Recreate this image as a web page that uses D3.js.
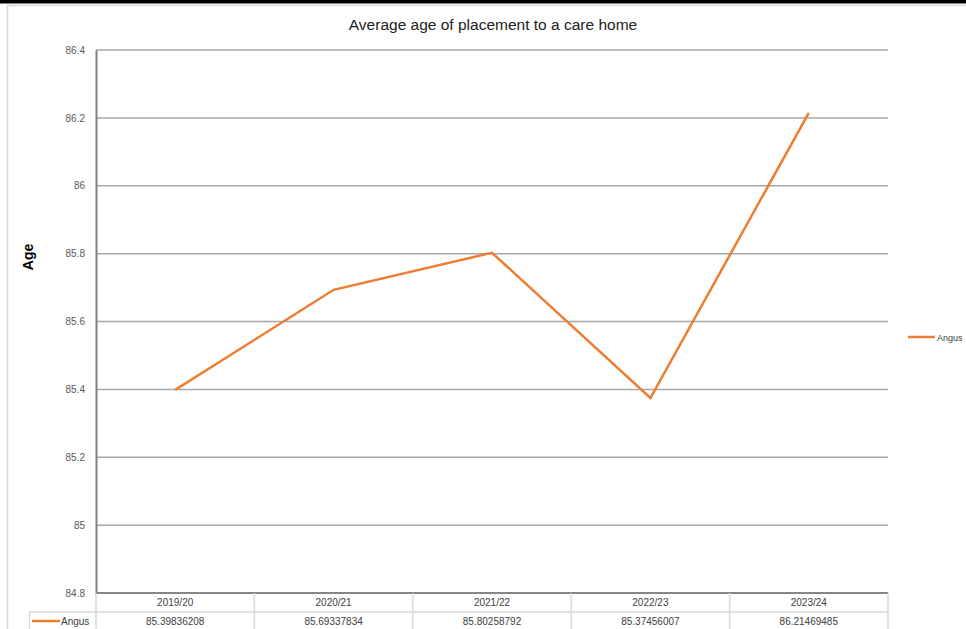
<!DOCTYPE html>
<html>
<head>
<meta charset="utf-8">
<script src="https://cdn.jsdelivr.net/npm/d3@7"></script>
<style>
  body { margin: 0; background: #fff; }
  svg { display: block; font-family: "Liberation Sans", Arial, sans-serif; }
</style>
</head>
<body>
<svg id="chart" width="966" height="629"></svg>
<script>
const categories = ['2019/20', '2020/21', '2021/22', '2022/23', '2023/24'];
const seriesName = 'Angus';
const values = [85.39836208, 85.69337834, 85.80258792, 85.37456007, 86.21469485];
const valueLabels = ['85.39836208', '85.69337834', '85.80258792', '85.37456007', '86.21469485'];
const yTicks = [84.8, 85, 85.2, 85.4, 85.6, 85.8, 86, 86.2, 86.4];

const width = 966, height = 629;
const plot = { left: 96, right: 888, top: 50, bottom: 593 };
const lineColor = '#ED7D31';

const svg = d3.select('#chart');

// outer frame bits
svg.append('rect').attr('x', 0).attr('y', 0).attr('width', width).attr('height', 3.5).attr('fill', '#000');
svg.append('line').attr('x1', 7).attr('x2', width).attr('y1', 5.5).attr('y2', 5.5)
  .attr('stroke', '#d9d9d9').attr('stroke-width', 1.5);
svg.append('line').attr('x1', 7.5).attr('x2', 7.5).attr('y1', 5).attr('y2', height)
  .attr('stroke', '#d9d9d9').attr('stroke-width', 1.5);

const xScale = d3.scaleBand()
  .domain(categories)
  .range([plot.left, plot.right]);

const yScale = d3.scaleLinear()
  .domain([84.8, 86.4])
  .range([plot.bottom, plot.top]);

// title
svg.append('text')
  .attr('x', 493).attr('y', 30)
  .attr('text-anchor', 'middle')
  .attr('font-size', 15.5)
  .attr('fill', '#222')
  .text('Average age of placement to a care home');

// gridlines
svg.append('g')
  .selectAll('line')
  .data(yTicks)
  .enter()
  .append('line')
  .attr('x1', plot.left).attr('x2', plot.right)
  .attr('y1', d => yScale(d)).attr('y2', d => yScale(d))
  .attr('stroke', d => d === 84.8 ? '#868686' : '#a6a6a6')
  .attr('stroke-width', d => d === 84.8 ? 2 : 1.5);

// y axis
const yAxis = d3.axisLeft(yScale)
  .tickValues(yTicks)
  .tickSize(0)
  .tickPadding(11)
  .tickFormat(d3.format('~g'));

const yG = svg.append('g')
  .attr('transform', `translate(${plot.left}, 0)`)
  .call(yAxis);
yG.select('.domain').attr('stroke', '#808080').attr('stroke-width', 2);
yG.selectAll('text')
  .attr('font-family', '"Liberation Sans", Arial, sans-serif')
  .attr('font-size', 10)
  .attr('fill', '#595959');

// y title
svg.append('text')
  .attr('transform', 'translate(33, 257) rotate(-90)')
  .attr('text-anchor', 'middle')
  .attr('font-size', 14)
  .attr('font-weight', 'bold')
  .attr('fill', '#000')
  .text('Age');

// line
const line = d3.line()
  .x((d, i) => xScale(categories[i]) + xScale.bandwidth() / 2)
  .y(d => yScale(d));

svg.append('path')
  .datum(values)
  .attr('d', line)
  .attr('fill', 'none')
  .attr('stroke', lineColor)
  .attr('stroke-width', 2.5)
  .attr('stroke-linejoin', 'miter');

// right legend
const legend = svg.append('g').attr('transform', 'translate(908, 337)');
legend.append('line').attr('x1', 0).attr('x2', 27).attr('y1', 0).attr('y2', 0)
  .attr('stroke', lineColor).attr('stroke-width', 2.5);
legend.append('text').attr('x', 29).attr('y', 3.5)
  .attr('font-size', 9).attr('fill', '#404040').text(seriesName);

// data table
const rowTop = plot.bottom, rowMid = 612, rowBottom = 632;
const tableColor = '#d9d9d9';
const table = svg.append('g');

xScale.domain().concat([null]).forEach((c, i) => {
  const x = c === null ? plot.right : xScale(c);
  if (i === 0) return;
  table.append('line').attr('x1', x).attr('x2', x).attr('y1', rowTop).attr('y2', rowBottom)
    .attr('stroke', tableColor).attr('stroke-width', 1.5);
});
table.append('line').attr('x1', plot.left).attr('x2', plot.left).attr('y1', rowTop).attr('y2', rowBottom)
  .attr('stroke', tableColor).attr('stroke-width', 1.5);
table.append('line').attr('x1', 29).attr('x2', plot.right).attr('y1', rowMid).attr('y2', rowMid)
  .attr('stroke', tableColor).attr('stroke-width', 1.5);
table.append('line').attr('x1', 29.5).attr('x2', 29.5).attr('y1', rowMid).attr('y2', rowBottom)
  .attr('stroke', tableColor).attr('stroke-width', 1.5);

table.selectAll('text.cat')
  .data(categories)
  .enter()
  .append('text')
  .attr('class', 'cat')
  .attr('x', d => xScale(d) + xScale.bandwidth() / 2)
  .attr('y', 606)
  .attr('text-anchor', 'middle')
  .attr('font-size', 10)
  .attr('fill', '#404040')
  .text(d => d);

table.selectAll('text.val')
  .data(valueLabels)
  .enter()
  .append('text')
  .attr('class', 'val')
  .attr('x', (d, i) => xScale(categories[i]) + xScale.bandwidth() / 2)
  .attr('y', 625)
  .attr('text-anchor', 'middle')
  .attr('font-size', 10)
  .attr('fill', '#404040')
  .text(d => d);

table.append('line').attr('x1', 32).attr('x2', 60).attr('y1', 621).attr('y2', 621)
  .attr('stroke', lineColor).attr('stroke-width', 2.5);
table.append('text').attr('x', 61).attr('y', 625)
  .attr('font-size', 10).attr('fill', '#404040').text(seriesName);
</script>
</body>
</html>
